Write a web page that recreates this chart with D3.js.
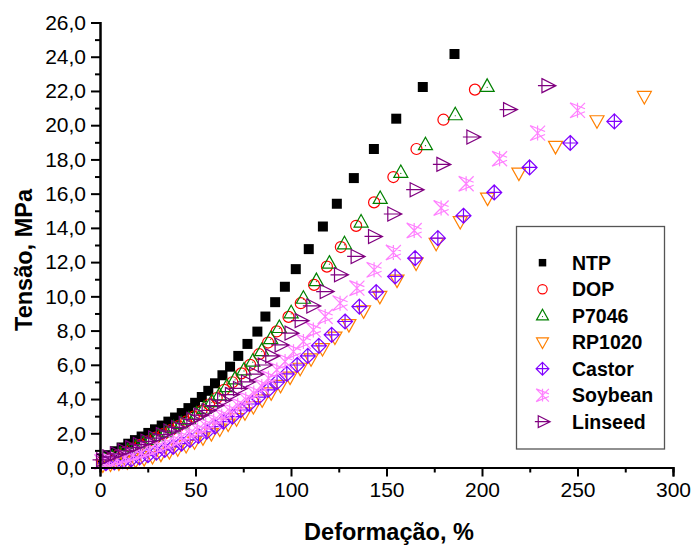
<!DOCTYPE html>
<html>
<head>
<meta charset="utf-8">
<script src="https://cdn.jsdelivr.net/npm/d3@7"></script>
<style>
  html, body { margin: 0; padding: 0; background: #fff; }
  svg { display: block; font-family: "Liberation Sans", Arial, sans-serif; }
</style>
</head>
<body>
<svg id="chart" width="692" height="545"></svg>
<script>
// Stress–strain curves for PVC compounds with different plasticizers
const seriesNames = ["NTP", "DOP", "P7046", "RP1020", "Castor", "Soybean", "Linseed"];

const ntpStrain = [1.0, 4.3, 7.8, 11.3, 14.8, 18.3, 21.8, 25.3, 28.8, 32.3, 35.8, 39.3, 42.8, 46.3, 49.8, 53.3, 56.7, 60.2, 64.1, 68.1, 72.4, 77.2, 82.4, 86.6, 91.7, 96.8, 102.5, 109.3, 116.7, 124.0, 132.9, 143.4, 155.1, 169.0, 185.6];
const ntpStress = [0.50, 0.72, 0.95, 1.17, 1.39, 1.60, 1.81, 2.02, 2.23, 2.45, 2.68, 2.92, 3.18, 3.47, 3.78, 4.12, 4.48, 4.92, 5.39, 5.89, 6.52, 7.22, 7.94, 8.82, 9.66, 10.56, 11.59, 12.76, 14.08, 15.41, 16.91, 18.61, 20.38, 22.23, 24.16];

const dopStrain = [1.5, 5.1, 9.1, 13.1, 17.1, 21.1, 25.1, 29.1, 33.1, 37.1, 41.1, 45.1, 49.1, 53.1, 57.1, 61.1, 65.0, 69.3, 74.0, 78.6, 83.3, 88.0, 92.5, 98.7, 105.1, 112.1, 118.8, 126.1, 134.1, 143.5, 153.6, 165.7, 179.8, 196.3];
const dopStress = [0.35, 0.50, 0.70, 0.90, 1.11, 1.32, 1.53, 1.74, 1.95, 2.18, 2.42, 2.68, 2.97, 3.30, 3.68, 4.06, 4.54, 4.98, 5.50, 6.00, 6.62, 7.30, 7.95, 8.80, 9.60, 10.67, 11.74, 12.88, 14.12, 15.49, 16.97, 18.61, 20.32, 22.08];

const p7046Strain = [2.5, 6.5, 10.5, 14.5, 18.5, 22.5, 26.5, 30.5, 34.5, 38.5, 42.5, 46.5, 50.5, 54.5, 58.5, 62.5, 66.4, 70.7, 75.4, 80.0, 84.7, 89.4, 93.9, 100.1, 106.5, 113.3, 120.1, 128.0, 136.7, 146.7, 157.5, 170.4, 186.0, 202.7];
const p7046Stress = [0.40, 0.58, 0.78, 0.98, 1.20, 1.42, 1.64, 1.86, 2.08, 2.32, 2.56, 2.82, 3.12, 3.46, 3.85, 4.24, 4.73, 5.18, 5.70, 6.21, 6.83, 7.53, 8.18, 9.04, 9.89, 10.92, 11.94, 13.07, 14.34, 15.72, 17.24, 18.86, 20.61, 22.27];

const rp1020Strain = [1.5, 5.5, 9.9, 14.3, 18.7, 23.1, 27.5, 31.9, 36.3, 40.7, 45.1, 49.5, 53.9, 58.3, 62.7, 67.1, 71.5, 75.9, 80.3, 84.9, 89.6, 94.5, 99.5, 104.8, 110.5, 116.5, 123.0, 130.3, 138.0, 146.5, 155.5, 165.5, 176.0, 188.6, 202.9, 219.3, 238.5, 260.2, 285.0];
const rp1020Stress = [0.15, 0.20, 0.26, 0.33, 0.42, 0.52, 0.64, 0.78, 0.93, 1.10, 1.29, 1.50, 1.73, 1.98, 2.25, 2.54, 2.85, 3.20, 3.56, 3.95, 4.36, 4.80, 5.28, 5.80, 6.35, 6.95, 7.62, 8.35, 9.15, 10.00, 10.95, 11.95, 13.10, 14.37, 15.74, 17.20, 18.76, 20.26, 21.68];

const castorStrain = [3.1, 7.5, 11.9, 16.3, 20.7, 25.1, 29.5, 33.9, 38.3, 42.7, 47.1, 51.5, 55.9, 60.2, 64.6, 69.3, 73.7, 78.2, 82.9, 88.0, 92.7, 97.8, 103.2, 108.8, 114.6, 121.3, 128.3, 135.8, 144.6, 154.5, 165.0, 176.9, 190.3, 206.4, 224.9, 246.2, 269.3];
const castorStress = [0.25, 0.30, 0.37, 0.47, 0.59, 0.72, 0.87, 1.03, 1.21, 1.40, 1.61, 1.84, 2.09, 2.39, 2.68, 2.97, 3.36, 3.71, 4.11, 4.53, 4.99, 5.47, 5.99, 6.52, 7.11, 7.75, 8.53, 9.40, 10.25, 11.16, 12.23, 13.40, 14.71, 16.07, 17.53, 18.96, 20.22];

const soybeanStrain = [1.0, 4.9, 9.1, 13.3, 17.5, 21.7, 25.9, 30.1, 34.3, 38.5, 42.7, 46.9, 51.1, 55.3, 59.5, 63.7, 67.9, 72.1, 76.3, 80.5, 84.7, 88.2, 92.6, 96.9, 101.3, 106.5, 111.7, 117.9, 125.7, 134.5, 143.5, 153.6, 164.5, 178.6, 191.7, 209.2, 229.1, 250.0];
const soybeanStress = [0.32, 0.40, 0.48, 0.60, 0.72, 0.86, 1.01, 1.18, 1.36, 1.55, 1.75, 1.97, 2.20, 2.45, 2.72, 3.00, 3.30, 3.63, 3.98, 4.35, 4.73, 5.22, 5.70, 6.19, 6.77, 7.36, 8.04, 8.82, 9.60, 10.48, 11.55, 12.56, 13.85, 15.16, 16.58, 18.04, 19.54, 20.87];

const linseedStrain = [0.8, 4.1, 8.1, 12.1, 16.1, 20.1, 24.1, 28.1, 32.1, 36.1, 40.1, 44.1, 48.1, 52.1, 56.1, 60.1, 64.2, 68.3, 72.5, 76.7, 81.0, 85.5, 89.4, 94.3, 99.5, 104.8, 110.9, 117.9, 125.4, 134.1, 143.2, 153.3, 165.0, 179.0, 194.7, 213.9, 234.0];
const linseedStress = [0.45, 0.62, 0.80, 0.98, 1.16, 1.34, 1.53, 1.72, 1.92, 2.13, 2.34, 2.57, 2.81, 3.06, 3.33, 3.62, 3.93, 4.26, 4.62, 5.00, 5.45, 5.99, 6.52, 7.16, 7.85, 8.58, 9.44, 10.28, 11.26, 12.33, 13.50, 14.81, 16.23, 17.71, 19.31, 20.91, 22.31];

const xTickValues = [0, 50, 100, 150, 200, 250, 300];
const yTickValues = [0, 2, 4, 6, 8, 10, 12, 14, 16, 18, 20, 22, 24, 26];

const strainSets = [ntpStrain, dopStrain, p7046Strain, rp1020Strain, castorStrain, soybeanStrain, linseedStrain];
const stressSets = [ntpStress, dopStress, p7046Stress, rp1020Stress, castorStress, soybeanStress, linseedStress];
const colors = ["#000000", "#ff0000", "#008000", "#ff8000", "#8000ff", "#ff80ff", "#800080"];
const shapes = ["square", "circle", "triUp", "triDown", "diamond", "star", "triRight"];

const series = seriesNames.map((name, i) => ({
  name, color: colors[i], shape: shapes[i],
  points: strainSets[i].map((x, j) => ({ x, y: stressSets[i][j] }))
}));

const svg = d3.select("#chart");
svg.append("rect").attr("width", 692).attr("height", 545).attr("fill", "#fff");

const x = d3.scaleLinear().domain([0, 300]).range([100, 673]);
const y = d3.scaleLinear().domain([0, 26]).range([467.5, 22.5]);

// Marker outline drawn with the given scale factor
function markerPath(shape, k) {
  const p = d3.path();
  if (shape === "square") {
    const h = 5 * k; p.rect(-h, -h, 2 * h, 2 * h);
  } else if (shape === "circle") {
    const r = 5.5 * k; p.moveTo(r, 0); p.arc(0, 0, r, 0, 2 * Math.PI);
  } else if (shape === "triUp") {
    p.moveTo(0, -7.5 * k); p.lineTo(7 * k, 5 * k); p.lineTo(-7 * k, 5 * k); p.closePath();
  } else if (shape === "triDown") {
    p.moveTo(0, 7.5 * k); p.lineTo(7 * k, -5 * k); p.lineTo(-7 * k, -5 * k); p.closePath();
  } else if (shape === "diamond") {
    const r = 7.5 * k;
    p.moveTo(0, -r); p.lineTo(r, 0); p.lineTo(0, r); p.lineTo(-r, 0); p.closePath();
    p.moveTo(0, -r); p.lineTo(0, r); p.moveTo(-r, 0); p.lineTo(r, 0);
  } else if (shape === "star") {
    const r = 7.5 * k;
    p.moveTo(-r, -r); p.lineTo(r, r); p.moveTo(-r, r); p.lineTo(r, -r);
    p.moveTo(0, -r); p.lineTo(0, r);
    p.moveTo(-r, -r); p.lineTo(r, -r * 0.2); p.moveTo(-r, r); p.lineTo(r, r * 0.2);
  } else if (shape === "triRight") {
    p.moveTo(-5 * k, -7 * k); p.lineTo(9 * k, 0); p.lineTo(-5 * k, 7 * k); p.closePath();
    p.moveTo(-9 * k, 0); p.lineTo(9 * k, 0);
  }
  return p.toString();
}

function drawMarker(g, s, k) {
  g.append("path")
    .attr("d", markerPath(s.shape, k))
    .attr("fill", s.shape === "square" ? s.color : "none")
    .attr("stroke", s.shape === "square" ? "none" : s.color)
    .attr("stroke-width", 1.2);
  if (s.shape === "triUp") {
    g.append("circle").attr("cx", 0).attr("cy", 1 * k).attr("r", 0.6).attr("fill", s.color);
  }
}

// Data markers
const plot = svg.append("g");
series.forEach(s => {
  const g = plot.append("g");
  s.points.forEach(d => {
    const m = g.append("g").attr("transform", `translate(${x(d.x)},${y(d.y)})`);
    drawMarker(m, s, 1);
  });
});

// Axes: labelled major ticks plus unlabelled minor ticks
const fmtY = v => d3.format(".1f")(v).replace(".", ",");
const yAxis = d3.axisLeft(y).tickValues(yTickValues).tickFormat(fmtY).tickSize(9).tickPadding(5);
const yMinor = d3.axisLeft(y).tickValues(d3.range(1, 26, 2)).tickFormat("").tickSize(5);
const xAxis = d3.axisBottom(x).tickValues(xTickValues).tickFormat(d3.format("d")).tickSize(9).tickPadding(6);
const xMinor = d3.axisBottom(x).tickValues([25, 75, 125, 175, 225, 275]).tickFormat("").tickSize(5);

function styleAxis(g) {
  g.selectAll("path").attr("stroke", "#000").attr("stroke-width", 2);
  g.selectAll("line").attr("stroke", "#000").attr("stroke-width", 2);
  g.selectAll("text").attr("font-size", 21).attr("fill", "#000")
    .attr("font-family", "Liberation Sans, Arial, sans-serif");
}

svg.append("g").attr("transform", "translate(100,0)").call(yMinor).call(styleAxis);
svg.append("g").attr("transform", "translate(100,0)").call(yAxis).call(styleAxis);
svg.append("g").attr("transform", "translate(0,467.5)").call(xMinor).call(styleAxis);
svg.append("g").attr("transform", "translate(0,467.5)").call(xAxis).call(styleAxis);

// Axis titles
svg.append("text")
  .attr("x", 389).attr("y", 540)
  .attr("text-anchor", "middle").attr("font-size", 23.5).attr("font-weight", "bold")
  .text("Deformação, %");
svg.append("text")
  .attr("transform", "translate(32,260) rotate(-90)")
  .attr("text-anchor", "middle").attr("font-size", 23.5).attr("font-weight", "bold")
  .text("Tensão, MPa");

// Legend
const legend = svg.append("g");
legend.append("rect")
  .attr("x", 516.5).attr("y", 226.5).attr("width", 148).attr("height", 222.5)
  .attr("fill", "#fff").attr("stroke", "#555").attr("stroke-width", 1.3);
series.forEach((s, i) => {
  const cy = 262.7 + i * 26.5;
  const m = legend.append("g").attr("transform", `translate(542.5,${cy})`);
  drawMarker(m, s, s.shape === "square" ? 0.75 : 0.85);
  legend.append("text")
    .attr("x", 572).attr("y", cy + 7)
    .attr("font-size", 19.5).attr("font-weight", "bold")
    .text(s.name);
});
</script>
</body>
</html>
